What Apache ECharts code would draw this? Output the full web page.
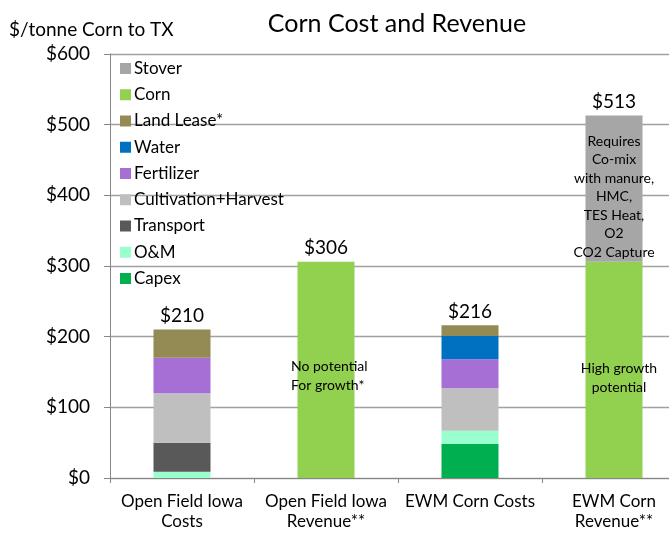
<!DOCTYPE html>
<html>
<head>
<meta charset="utf-8">
<script src="https://cdn.jsdelivr.net/npm/echarts@6/dist/echarts.min.js"></script>
<style>
  html, body { margin: 0; padding: 0; background: #fff; }
  #chart { width: 669px; height: 535px; }
</style>
</head>
<body>
<div id="chart"></div>
<script>
// categories and stacked values ($/tonne)
var categories = ["Open Field Iowa\nCosts", "Open Field Iowa\nRevenue**", "EWM Corn Costs", "EWM Corn\nRevenue**"];
var capex = [0, 0, 48, 0];
var om = [9, 0, 19, 0];
var transport = [41, 0, 0, 0];
var cultivation = [70, 0, 60, 0];
var fertilizer = [50, 0, 41, 0];
var water = [0, 0, 33, 0];
var landLease = [40, 0, 15, 0];
var corn = [0, 306, 0, 306];
var stover = [0, 0, 0, 207];
var totals = [210, 306, 216, 513];
var cornNotes = ["", "No potential\nFor growth*", "", "High growth\npotential"];
var stoverNotes = ["", "", "", "Requires\nCo-mix\nwith manure,\nHMC,\nTES Heat,\nO2\nCO2 Capture"];

var FONT = "Lato";

function stackSeries(name, data, color) {
  return {
    name: name,
    type: "bar",
    stack: "total",
    barWidth: 57,
    data: data,
    itemStyle: { color: color },
    emphasis: { disabled: true }
  };
}

// bars that carry a note inside them
function notedData(values, notes, align, offsets) {
  return values.map(function (v, i) {
    if (!notes[i]) return v;
    return {
      value: v,
      label: {
        show: true,
        position: "inside",
        formatter: notes[i],
        align: align[i],
        offset: offsets[i],
        color: "#000",
        fontFamily: FONT,
        fontSize: 14,
        lineHeight: 18.5
      }
    };
  });
}

var myChart = echarts.init(document.getElementById("chart"));

var series = [
  stackSeries("Capex", capex, "#00b050"),
  stackSeries("O&M", om, "#99ffcc"),
  stackSeries("Transport", transport, "#595959"),
  stackSeries("Cultivation+Harvest", cultivation, "#bfbfbf"),
  stackSeries("Fertilizer", fertilizer, "#a66fd6"),
  stackSeries("Water", water, "#0070c0"),
  stackSeries("Land Lease*", landLease, "#948a54"),
  stackSeries("Corn", notedData(corn, cornNotes, ["", "left", "", "center"], [0, [-35, 6], 0, [5, 8]]), "#92d050"),
  stackSeries("Stover", notedData(stover, stoverNotes, ["", "", "", "center"], [0, 0, 0, [0, 8]]), "#a6a6a6"),
  {
    name: "Total",
    type: "bar",
    barWidth: 57,
    barGap: "-100%",
    z: 1,
    data: totals,
    itemStyle: { color: "rgba(0,0,0,0)" },
    emphasis: { disabled: true },
    label: {
      show: true,
      position: "top",
      distance: 4,
      formatter: function (p) { return "$" + p.value; },
      color: "#000",
      fontFamily: FONT,
      fontSize: 19
    }
  }
];

myChart.setOption({
  animation: false,
  textStyle: { fontFamily: FONT },
  title: [
    {
      text: "Corn Cost and Revenue",
      left: 392,
      top: 6,
      textAlign: "center",
      textStyle: { fontFamily: FONT, fontSize: 25, fontWeight: "normal", color: "#000" }
    },
    {
      text: "$/tonne Corn to TX",
      left: 4,
      top: 15,
      textStyle: { fontFamily: FONT, fontSize: 19, fontWeight: "normal", color: "#000" }
    }
  ],
  legend: {
    orient: "vertical",
    left: 115,
    top: 55,
    itemWidth: 11,
    itemHeight: 11,
    itemGap: 9.25,
    icon: "rect",
    data: ["Stover", "Corn", "Land Lease*", "Water", "Fertilizer", "Cultivation+Harvest", "Transport", "O&M", "Capex"],
    textStyle: { fontFamily: FONT, fontSize: 17, lineHeight: 17, color: "#000", padding: [0, 0, 0, -2] }
  },
  grid: {
    left: 110,
    right: -17,
    top: 54,
    bottom: 57,
    containLabel: false,
    outerBoundsMode: "none"
  },
  xAxis: {
    type: "category",
    data: categories,
    axisLine: { lineStyle: { color: "#868686", width: 1 } },
    axisTick: { show: true, length: 5, lineStyle: { color: "#868686" } },
    axisLabel: {
      color: "#000",
      fontFamily: FONT,
      fontSize: 17,
      lineHeight: 20,
      margin: 14,
      interval: 0
    }
  },
  yAxis: {
    type: "value",
    min: 0,
    max: 600,
    interval: 100,
    axisLine: { show: true, lineStyle: { color: "#868686", width: 1 } },
    axisTick: { show: true, length: 6, lineStyle: { color: "#868686" } },
    splitLine: { lineStyle: { color: "#a0a0a0", width: 1.3 } },
    axisLabel: {
      color: "#000",
      fontFamily: FONT,
      fontSize: 19,
      margin: 20,
      formatter: function (v) { return "$" + v; }
    }
  },
  series: series
});
</script>
</body>
</html>
